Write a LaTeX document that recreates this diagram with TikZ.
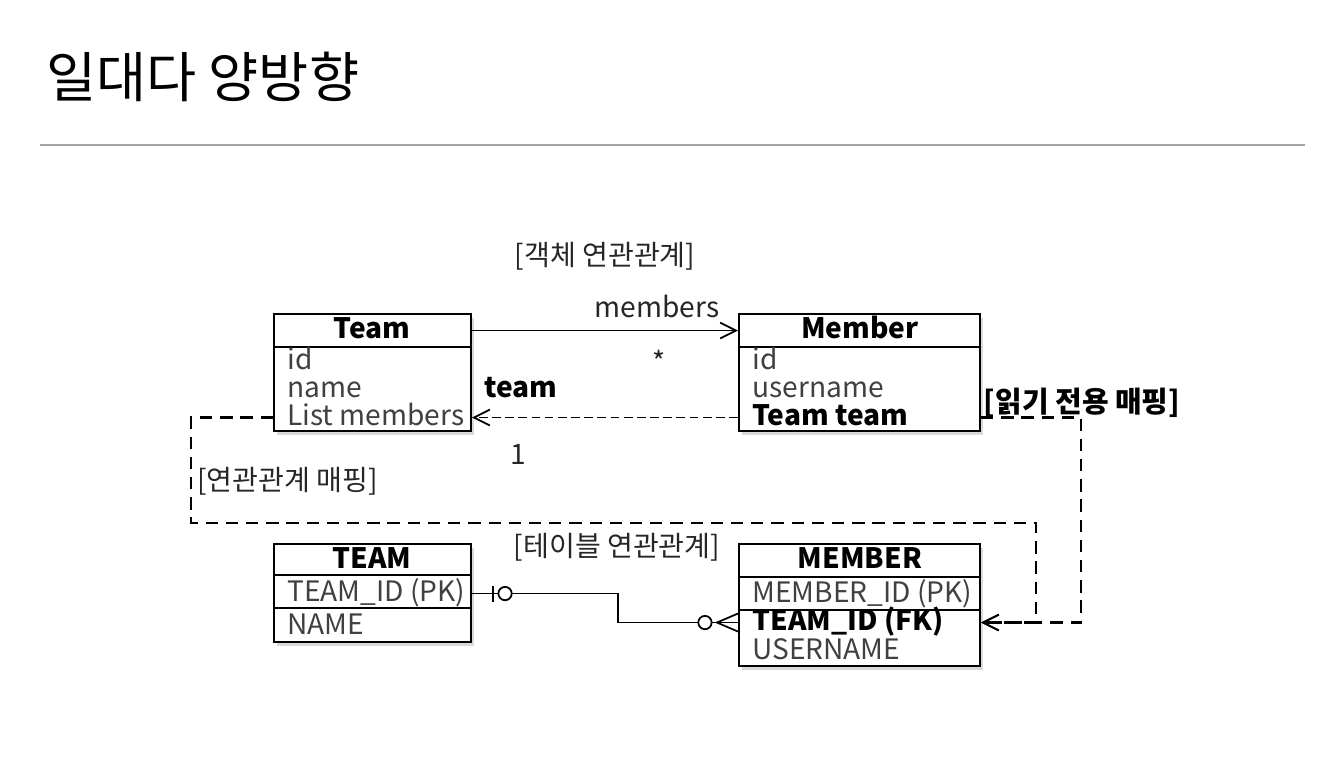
\documentclass[tikz,border=0pt]{standalone}
\usepackage{fontspec}
\setmainfont{Noto Sans CJK KR}
\usetikzlibrary{fit,calc,shadows,arrows.meta}

\begin{document}
\begin{tikzpicture}[x=0.02cm,y=-0.02cm,
    every node/.style={inner sep=0pt},
    txt/.style={font=\fontsize{16pt}{19pt}\selectfont,text height=12pt,text depth=3.5pt},
    box/.style={draw,line width=1.2pt,fill=white,
      drop shadow={opacity=0.3,shadow xshift=1.5pt,shadow yshift=-2pt}},
    head/.style={txt,anchor=base,font=\fontsize{16pt}{19pt}\selectfont\bfseries},
    field/.style={txt,anchor=base west,text=black!75},
    key/.style={txt,anchor=base west,font=\fontsize{16pt}{19pt}\selectfont\bfseries},
    note/.style={txt,text=black!85},
    conn/.style={line width=1pt},
    ref/.style={line width=1.3pt,dash pattern=on 7pt off 4.5pt},
    tip/.style={-{Straight Barb[length=9pt,width=9pt,line width=1pt]}}]
  \useasboundingbox (0,0) rectangle (1342,778);

  % title
  \node[anchor=base west,font=\fontsize{31pt}{36pt}\selectfont] (title) at (46,97) {일대다 양방향};
  \draw[line width=0.8pt,black!35] (40,145) -- (1305,145);

  % object model
  \node[note] (objlabel) at (605,258) {[객체 연관관계]};

  \node[box,fit={(274,314) (471,431)}] (team) {};
  \draw[line width=1.2pt] (274,347) -- (471,347);
  \node[head] (team-h) at (372,338) {Team};
  \node[field] (team-id) at (287,369) {id};
  \node[field] (team-name) at (287,397) {name};
  \node[field] (team-list) at (287,425) {List members};

  \node[box,fit={(739,314) (980,431)}] (member) {};
  \draw[line width=1.2pt] (739,347) -- (980,347);
  \node[head] (member-h) at (860,338) {Member};
  \node[field] (member-id) at (752,369) {id};
  \node[field] (member-name) at (752,397) {username};
  \node[key] (member-team) at (752,425) {Team team};

  \node[note] (members) at (657,310) {members};
  \node[note,anchor=base] (many) at (659,372) {*};
  \node[key,anchor=base] (teamref) at (521,397) {team};
  \node[note,anchor=base] (one) at (518,464) {1};

  % table model
  \node[note] (tablabel) at (617,549) {[테이블 연관관계]};

  \node[box,fit={(274,544) (471,642)}] (tteam) {};
  \draw[line width=1.2pt] (274,575) -- (471,575);
  \draw[line width=1.2pt] (274,608) -- (471,608);
  \node[head] (tteam-h) at (372,568) {TEAM};
  \node[field] (tpk) at (287,601) {TEAM\_ID (PK)};
  \node[field] (tname) at (287,634) {NAME};

  \node[box,fit={(739,544) (980,666)}] (tmember) {};
  \draw[line width=1.2pt] (739,577) -- (980,577);
  \draw[line width=1.2pt] (739,610) -- (980,610);
  \node[head] (tmember-h) at (860,568) {MEMBER};
  \node[field] (mpk) at (752,602) {MEMBER\_ID (PK)};
  \node[key] (tfk) at (752,630) {TEAM\_ID (FK)};
  \node[field] (tuser) at (752,659) {USERNAME};

  % associations
  \draw[conn,tip] (team-h -| team.east) -- (team-h -| member.west);
  \draw[conn,tip,dash pattern=on 5pt off 2.5pt] (member-team -| member.west) -- (member-team -| team.east);

  % mapping
  \draw[ref,tip] (team-list -| team.west) -| (191,523) -| (1036,0 |- tfk) -- (tfk -| tmember.east);
  \draw[ref,tip] (member-team -| member.east) -| (1081,0 |- tfk) -- (tfk -| tmember.east);
  \node[note,anchor=west] (maplabel) at (197,483) {[연관관계 매핑]};
  \node[txt,font=\fontsize{16.5pt}{19pt}\selectfont\bfseries] (rolabel) at (1082,405) {[읽기 전용 매핑]};

  % foreign key
  \draw[conn] (tpk -| tteam.east) -| (618,0 |- tfk) -- (tfk -| tmember.west);
  \draw[conn] ($(tpk -| tteam.east)+(21,-8)$) -- ++(0,16);
  \draw[conn,fill=white] ($(tpk -| tteam.east)+(33,0)$) circle[radius=3.8pt];
  \draw[conn,fill=white] ($(tfk -| tmember.west)+(-33,0)$) circle[radius=3.8pt];
  \draw[conn] ($(tfk -| tmember.west)+(0,-9)$) -- ++(-21,9) -- ++(21,9);
\end{tikzpicture}
\end{document}
